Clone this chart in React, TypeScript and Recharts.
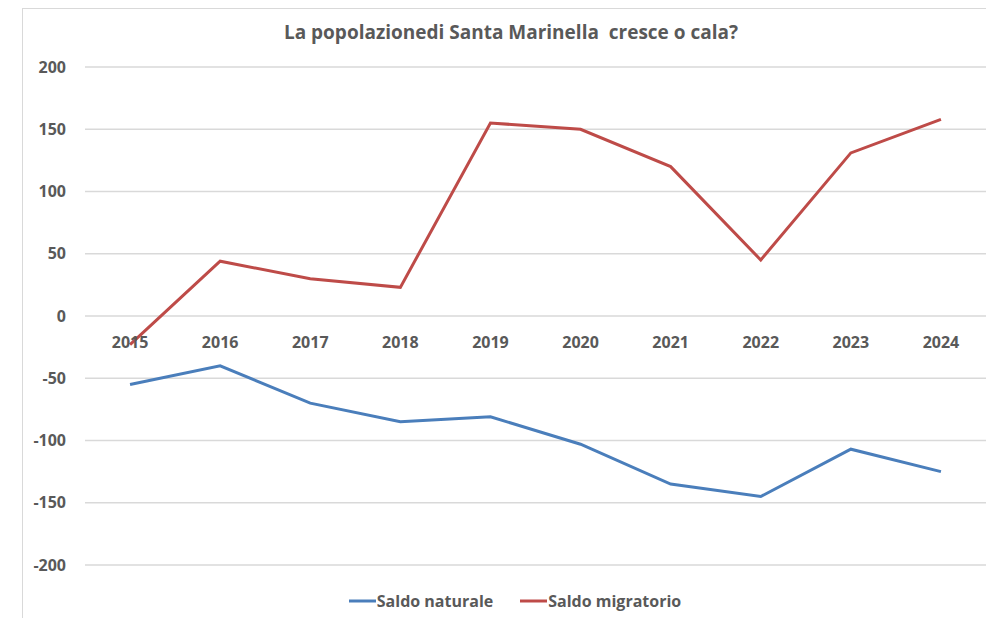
import React from "react";
import { LineChart, Line, XAxis, YAxis, CartesianGrid, Legend } from "recharts";

const years = ["2015", "2016", "2017", "2018", "2019", "2020", "2021", "2022", "2023", "2024"];
const saldoNaturale = [-55, -40, -70, -85, -81, -103, -135, -145, -107, -125];
const saldoMigratorio = [-23, 44, 30, 23, 155, 150, 120, 45, 131, 158];
const yTicks = [-200, -150, -100, -50, 0, 50, 100, 150, 200];
const seriesNames = ["Saldo naturale", "Saldo migratorio"];

const data = years.map((year, i) => ({
  year,
  naturale: saldoNaturale[i],
  migratorio: saldoMigratorio[i],
}));

const W = 986;
const H = 618;
const X_AXIS_H = 1;
const MARGIN = { top: 67, right: 0, left: 0, bottom: 52 };
const Y_MIN = -200;
const Y_MAX = 200;
const PLOT_H = H - MARGIN.top - MARGIN.bottom - X_AXIS_H;
// the category labels sit just under the zero line, as in Excel
const ZERO_Y = MARGIN.top + (PLOT_H * Y_MAX) / (Y_MAX - Y_MIN);

const FONT = "'Open Sans', 'Noto Sans', sans-serif";
const TEXT = "#595959";
const BLUE = "#4a7ebb";
const RED = "#be4b48";

const YearTick = (props: any) => {
  const { x, payload } = props;
  return (
    <text
      x={x}
      y={ZERO_Y + 26}
      textAnchor="middle"
      dominantBaseline="central"
      fontFamily={FONT}
      fontWeight={700}
      fontSize={16}
      fill={TEXT}
    >
      {payload.value}
    </text>
  );
};

const LegendContent = (props: any) => {
  const items = [...(props.payload || [])].sort(
    (a: any, b: any) => seriesNames.indexOf(a.value) - seriesNames.indexOf(b.value)
  );
  return (
    <div style={{ display: "flex", justifyContent: "center", alignItems: "center" }}>
      {items.map((item: any) => (
        <div key={item.value} style={{ display: "flex", alignItems: "center", marginRight: 27 }}>
          <svg width={27} height={6} style={{ marginRight: 1 }}>
            <line x1={0} y1={3} x2={27} y2={3} stroke={item.color} strokeWidth={3} />
          </svg>
          <span style={{ fontFamily: FONT, fontWeight: 700, fontSize: 16, color: TEXT }}>
            {item.value}
          </span>
        </div>
      ))}
    </div>
  );
};

export default function App() {
  return (
    <div
      style={{
        position: "absolute",
        left: 0,
        top: 0,
        width: W,
        height: H,
        overflow: "hidden",
        background: "#fff",
      }}
    >
      <div
        style={{
          position: "absolute",
          left: 22,
          top: 8,
          width: 1000,
          height: 700,
          border: "1px solid #d9d9d9",
        }}
      />
      <div
        style={{
          position: "absolute",
          left: 0,
          top: 19,
          width: 1022,
          textAlign: "center",
          fontFamily: FONT,
          fontWeight: 700,
          fontSize: 19,
          color: TEXT,
          whiteSpace: "pre",
        }}
      >
        {"La popolazionedi Santa Marinella  cresce o cala?"}
      </div>
      <div style={{ position: "absolute", left: 0, top: 0 }}>
        <LineChart width={W} height={H} data={data} margin={MARGIN}>
          <CartesianGrid vertical={false} stroke="#d9d9d9" strokeWidth={1.3} />
          <XAxis
            dataKey="year"
            scale="band"
            height={X_AXIS_H}
            axisLine={false}
            tickLine={false}
            tick={<YearTick />}
            interval={0}
          />
          <YAxis
            domain={[Y_MIN, Y_MAX]}
            ticks={yTicks}
            width={85}
            axisLine={false}
            tickLine={false}
            tickSize={0}
            tickMargin={19}
            tick={{ fontFamily: FONT, fontWeight: 700, fontSize: 16, fill: TEXT }}
          />
          <Legend
            verticalAlign="middle"
            layout="horizontal"
            wrapperStyle={{ top: 590, left: 0, width: 1057 }}
            content={<LegendContent />}
          />
          <Line
            dataKey="naturale"
            name="Saldo naturale"
            stroke={BLUE}
            strokeWidth={3}
            dot={false}
            isAnimationActive={false}
          />
          <Line
            dataKey="migratorio"
            name="Saldo migratorio"
            stroke={RED}
            strokeWidth={3}
            dot={false}
            isAnimationActive={false}
          />
        </LineChart>
      </div>
    </div>
  );
}
